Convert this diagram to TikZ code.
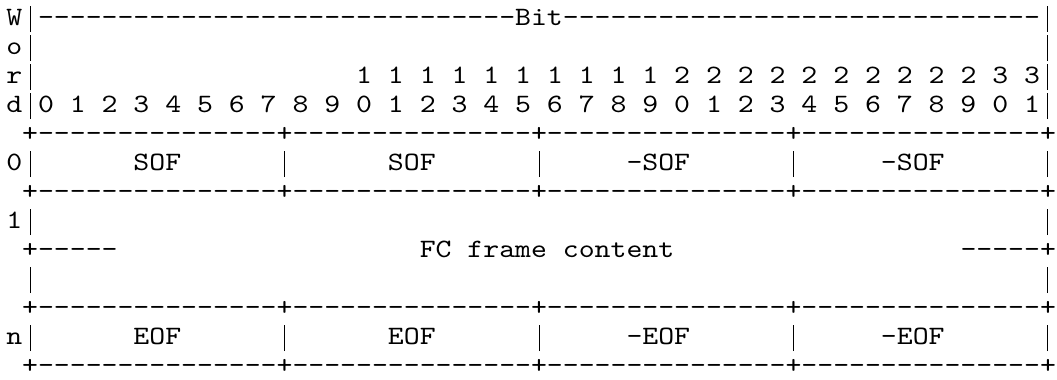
\documentclass[tikz,border=0pt]{standalone}
\usepackage{fontspec}
\setmonofont{lmmono10-regular.otf}[FakeStretch=1.142857]
\usepackage{tikz}

% one blank column of the layout, n times
\newcommand\gap[1]{\hspace*{\dimexpr#1\fontcharwd\font`x\relax}}
% a tall bar, one column wide
\newcommand\vb{\makebox[\fontcharwd\font`x]{\rule[-0.27em]{0.75pt}{0.97em}}}

\begin{document}
\begin{tikzpicture}[x=0.75pt,y=0.75pt]
    \tikzstyle{every node}+=[inner sep=0pt]
    \tikzstyle{txt}=[anchor=base west,font=\fontsize{19.88}{22}\ttfamily,
        execute at end node={\kern-0.5\fontcharwd\font`x}]
    \useasboundingbox (0,0) rectangle (1057,-379);
    \node [txt] (bitrule) at (6,-25) {W\vb------------------------------Bit------------------------------\vb};
    \node [txt] (orow) at (6,-54) {o\vb\gap{63}\vb};
    \node [txt] (tens) at (6,-83) {r\vb\gap{20}1~1~1~1~1~1~1~1~1~1~2~2~2~2~2~2~2~2~2~2~3~3\vb};
    \node [txt] (ones) at (6,-112) {d\vb0~1~2~3~4~5~6~7~8~9~0~1~2~3~4~5~6~7~8~9~0~1~2~3~4~5~6~7~8~9~0~1\vb};
    \node [txt] (top) at (6,-141) {\gap{1}+---------------+---------------+---------------+---------------+};
    \node [txt] (sofrow) at (6,-170) {0\vb\gap{6}SOF\gap{6}\vb\gap{6}SOF\gap{6}\vb\gap{5}-SOF\gap{6}\vb\gap{5}-SOF\gap{6}\vb};
    \node [txt] (sofsep) at (6,-199) {\gap{1}+---------------+---------------+---------------+---------------+};
    \node [txt] (onerow) at (6,-228) {1\vb\gap{63}\vb};
    \node [txt] (content) at (6,-257) {\gap{1}+-----\gap{19}FC~frame~content\gap{18}-----+};
    \node [txt] (padrow) at (6,-286) {\gap{1}\vb\gap{63}\vb};
    \node [txt] (eofsep) at (6,-315) {\gap{1}+---------------+---------------+---------------+---------------+};
    \node [txt] (eofrow) at (6,-344) {n\vb\gap{6}EOF\gap{6}\vb\gap{6}EOF\gap{6}\vb\gap{5}-EOF\gap{6}\vb\gap{5}-EOF\gap{6}\vb};
    \node [txt] (bottom) at (6,-373) {\gap{1}+---------------+---------------+---------------+---------------+};
\end{tikzpicture}
\end{document}
